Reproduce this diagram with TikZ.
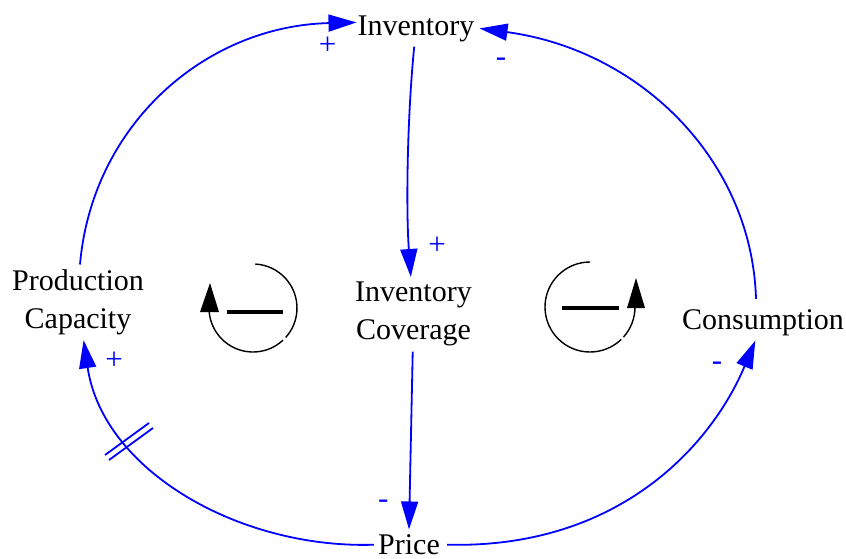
\documentclass[tikz,border=0pt]{standalone}
\usepackage{fontspec}
\setmainfont{Liberation Serif}
\usetikzlibrary{arrows.meta,calc}
\definecolor{linkblue}{RGB}{0,0,255}
\begin{document}
\begin{tikzpicture}[x=1pt,y=-1pt,
  var/.style={inner xsep=1pt,inner ysep=5pt,font=\fontsize{30}{38}\selectfont,align=center},
  link/.style={draw=linkblue,line width=1.8pt,-{Triangle[length=28pt,width=17pt]}},
  delaymark/.style={draw=linkblue,line width=1.8pt},
  pol/.style={text=linkblue,font=\fontsize{31}{36}\selectfont,inner sep=0pt},
  loopline/.style={line width=1.4pt},
  loopbar/.style={line width=3.5pt},
]
\useasboundingbox (0,0) rectangle (846,558);
% variables
\node[var,anchor=base] (inv) at (416,35) {Inventory};
\node[var,anchor=north] (pc) at (78,264.5) {Production\\Capacity};
\node[var,anchor=north] (ic) at (413.5,277) {Inventory\\Coverage};
\node[var,anchor=base] (cons) at (763,329) {Consumption};
\node[var,anchor=base,inner ysep=2pt] (price) at (409,554.5) {Price};
% links
\draw[link] ([xshift=2pt]pc.north) .. controls (92,125) and (205,26) .. ([yshift=6pt]inv.west);
\draw[link] ([shift={(-7pt,5pt)}]cons.north) .. controls (752,160) and (640,50) .. ([xshift=4pt]inv.east);
\draw[link] (inv) .. controls (407,120) and (406,210) .. (ic);
\draw[link] (ic) -- ([yshift=3pt]price.north);
\draw[link] ([xshift=6pt]price.east) .. controls (620,549) and (712,444) .. (cons);
\draw[link] ([xshift=-3pt]price.west) .. controls (240,549) and (103,471) .. (pc);
% delay mark
\draw[delaymark] (105,455) -- (149,423);
\draw[delaymark] (109,460) -- (153,428);
% polarities
\node[pol] (p1) at (327.5,45.5) {+};
\node[pol,anchor=base] (p2) at (501,66.5) {-};
\node[pol] (p3) at (437,246) {+};
\node[pol,anchor=base] (p4) at (383.3,508.5) {-};
\node[pol,anchor=base] (p5) at (717,370.3) {-};
\node[pol] (p6) at (114,360.5) {+};
% loop symbols
\draw[loopline] (253,308) ++(-87:44) arc (-87:42:44);
\draw[loopline] (253,308) ++(47:44) arc (47:175:44);
\fill (200,312) -- (219,312) -- (210,283) -- cycle;
\draw[loopbar] (227,312) -- (283,312);
\draw[loopline] (590,307) ++(-90:45) arc (-90:-314:45);
\draw[loopline] (590,307) ++(-318:45) arc (-318:-360:45);
\fill (627,308) -- (645,308) -- (636,278) -- cycle;
\draw[loopbar] (562,308) -- (619,308);
\end{tikzpicture}
\end{document}
